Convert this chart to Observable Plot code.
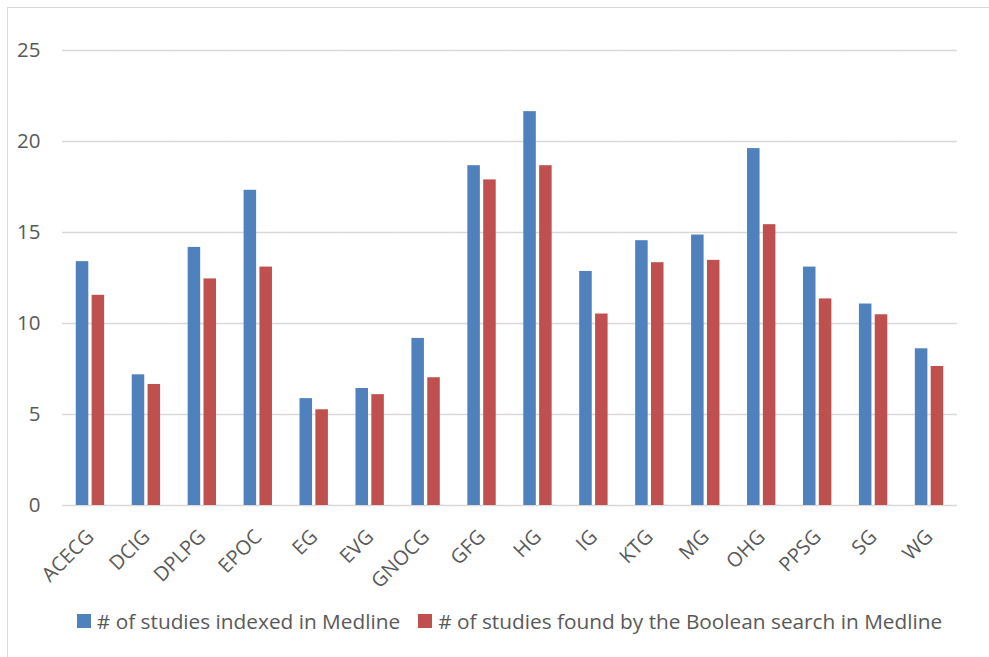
<!DOCTYPE html>
<html><head><meta charset="utf-8">
<script src="https://cdn.jsdelivr.net/npm/d3@7"></script>
<script src="https://cdn.jsdelivr.net/npm/@observablehq/plot@0.6"></script>
<style>
body{margin:0;background:#fff;font-family:"Open Sans",sans-serif;}
#wrap{position:relative;width:989px;height:657px;overflow:hidden;}
#frame{position:absolute;left:7px;top:7px;width:1010px;height:700px;border:1.5px solid #d9d9d9;box-sizing:border-box;}
#chart{position:absolute;left:0;top:0;}
#legend{position:absolute;left:62px;width:895px;top:606px;height:30px;display:flex;justify-content:center;align-items:center;gap:18px;font-size:20.8px;color:#595959;white-space:nowrap;}
.item{display:flex;align-items:center;gap:6px;}
.sw{width:14px;height:14px;display:inline-block;}
</style></head>
<body>
<div id="wrap"><div id="frame"></div><div id="chart"></div><div id="legend"></div></div>
<script>
const categories = ["ACECG","DCIG","DPLPG","EPOC","EG","EVG","GNOCG","GFG","HG","IG","KTG","MG","OHG","PPSG","SG","WG"];
const seriesNames = ["# of studies indexed in Medline", "# of studies found by the Boolean search in Medline"];
const indexedValues = [13.4,7.18,14.18,17.32,5.87,6.43,9.18,18.67,21.64,12.86,14.55,14.86,19.61,13.1,11.07,8.61];
const foundValues = [11.55,6.65,12.45,13.1,5.26,6.09,7.02,17.89,18.67,10.52,13.34,13.47,15.43,11.35,10.48,7.64];
const yTicks = [0,5,10,15,20,25];
const colors = ["#4F81BD","#C0504D"];

const data = [];
categories.forEach((c,i)=>{
  data.push({cat:c, series:seriesNames[0], value:indexedValues[i]});
  data.push({cat:c, series:seriesNames[1], value:foundValues[i]});
});

const chart = Plot.plot({
  width:989, height:595,
  marginLeft:62, marginRight:32, marginTop:50, marginBottom:90,
  style:{fontFamily:"'Open Sans', sans-serif", fontSize:"20px", color:"#595959", background:"transparent"},
  fx:{domain:categories, padding:0, round:false, label:null},
  x:{domain:seriesNames, paddingInner:0.21, paddingOuter:0.87, round:false, axis:null},
  y:{domain:[0,25], label:null},
  color:{domain:seriesNames, range:colors},
  marks:[
    Plot.gridY(yTicks, {stroke:"#d9d9d9", strokeOpacity:1, strokeWidth:1.5}),
    Plot.axisY(yTicks, {tickSize:0, tickPadding:22, fontSize:20.5, label:null}),
    Plot.axisFx({anchor:"bottom", tickRotate:-45, tickSize:0, tickPadding:28, fontSize:20, label:null}),
    Plot.barY(data, {fx:"cat", x:"series", y:"value", fill:"series"})
  ]
});
document.getElementById("chart").appendChild(chart);

const legend = document.getElementById("legend");
seriesNames.forEach((s,i)=>{
  const it = document.createElement("div"); it.className="item";
  const sw = document.createElement("span"); sw.className="sw"; sw.style.background=colors[i];
  const t = document.createElement("span"); t.textContent=s;
  it.appendChild(sw); it.appendChild(t); legend.appendChild(it);
});
</script>
</body></html>
